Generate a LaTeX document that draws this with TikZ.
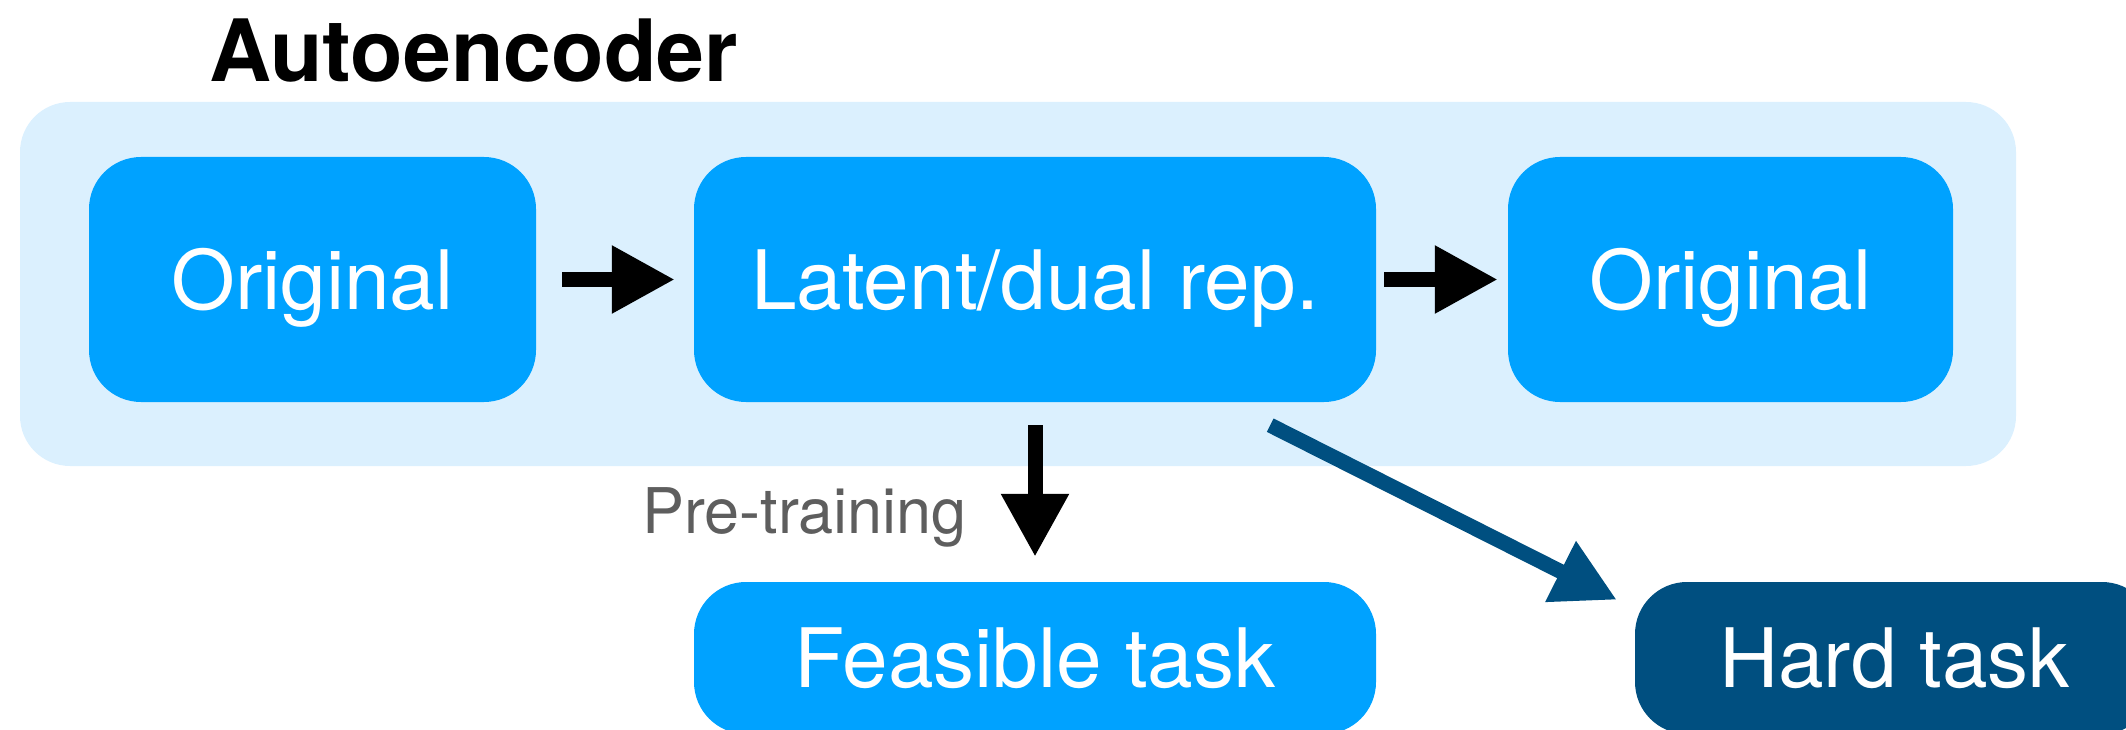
\documentclass[tikz,border=0pt]{standalone}
\usepackage{fontspec}
\setmainfont{TeX Gyre Heros}
\usetikzlibrary{arrows.meta,calc}
\definecolor{aeback}{RGB}{219,240,254}
\definecolor{boxblue}{RGB}{0,162,255}
\definecolor{darkblue}{RGB}{0,79,128}
\definecolor{labelgray}{RGB}{94,94,94}
\tikzset{
  outerbox/.style={draw=none, fill=aeback, rounded corners=50pt, inner sep=0pt},
  bluebox/.style={draw=none, fill=boxblue, rounded corners=52pt, inner sep=0pt,
    minimum height=245pt, text=white, font=\fontsize{82}{98}\selectfont,
    text height=59pt, text depth=0pt},
  taskbox/.style={bluebox, minimum height=152pt},
  bigarrow/.style={line width=15pt, -{Triangle[length=63pt,width=64pt]}},
  titletext/.style={font=\fontsize{86}{103}\selectfont\bfseries, inner sep=0pt},
  edgelabel/.style={font=\fontsize{63}{76}\selectfont, text=labelgray, inner sep=0pt},
}
\begin{document}
\begin{tikzpicture}[x=1pt,y=-1pt]
\useasboundingbox (0,0) rectangle (2126,730);
\clip (0,0) rectangle (2126,730);
\node[outerbox, minimum width=1996pt, minimum height=364pt] (ae) at (1018,284) {};
\node[titletext, anchor=base west] (title) at (209,82) {Autoencoder};
\node[bluebox, minimum width=447pt] (o1) at (312.5,279.5) {Original};
\node[bluebox, minimum width=682pt] (lat) at (1035,279.5) {Latent/dual rep.};
\node[bluebox, minimum width=445pt] (o2) at (1730.5,279.5) {Original};
\node[taskbox, minimum width=682pt] (feas) at (1035,658) {Feasible task};
\node[taskbox, minimum width=519pt, fill=darkblue] (hard) at (1894.5,658) {Hard task};
\node[edgelabel, anchor=base east] (pre) at (967,533) {Pre-training};
\draw[bigarrow, shorten <=26pt, shorten >=19pt] (o1.east) -- (lat.west);
\draw[bigarrow, shorten <=8pt, shorten >=10pt] (lat.east) -- (o2.west);
\draw[bigarrow, shorten <=23pt, shorten >=25pt] (lat.south) -- (feas.north);
\draw[bigarrow, draw=darkblue, fill=darkblue] ($(lat.south east)+(-106,23)$) -- ($(hard.north west)+(-18,18)$);
\end{tikzpicture}
\end{document}
